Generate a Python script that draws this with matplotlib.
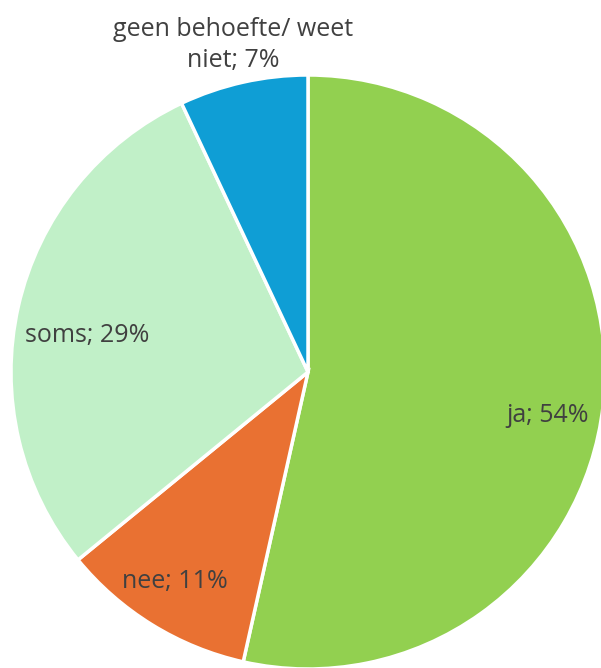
import numpy as np
import matplotlib
matplotlib.use('Agg')
import matplotlib.pyplot as plt

# share per answer, clockwise from 12 o'clock
categories = ['ja', 'nee', 'soms', 'geen behoefte/ weet\nniet']
shares = [53.5, 10.6, 28.9, 7.0]
colors = ['#92D050', '#E97132', '#C1F0C8', '#0F9ED5']

W, H = 601, 668
fig = plt.figure(figsize=(W / 100, H / 100), dpi=100)
ax = fig.add_axes([0, 0, 1, 1])
ax.set_xlim(0, W)
ax.set_ylim(0, H)
ax.set_aspect('equal')
ax.axis('off')

cx, cy, R = 308, H - 372, 297
wedges, _ = ax.pie(shares, colors=colors, startangle=90, counterclock=False,
                   center=(cx, cy), radius=R,
                   wedgeprops=dict(edgecolor='white', linewidth=2.5))
ax.set_xlim(0, W)
ax.set_ylim(0, H)

# where Excel put the data labels (x centre, baseline of last line from top, px)
label_pos = [(548, 422), (175, 588), (87, 342), (233, 67)]
for cat, s, (lx, ly) in zip(categories, shares, label_pos):
    ax.text(lx, H - ly, f"{cat}; {s:.0f}%", ha='center', va='baseline',
            fontsize=18, color='#404040', family=['Open Sans', 'DejaVu Sans'],
            linespacing=1.3, multialignment='center')

fig.savefig('out.png', dpi=100)
